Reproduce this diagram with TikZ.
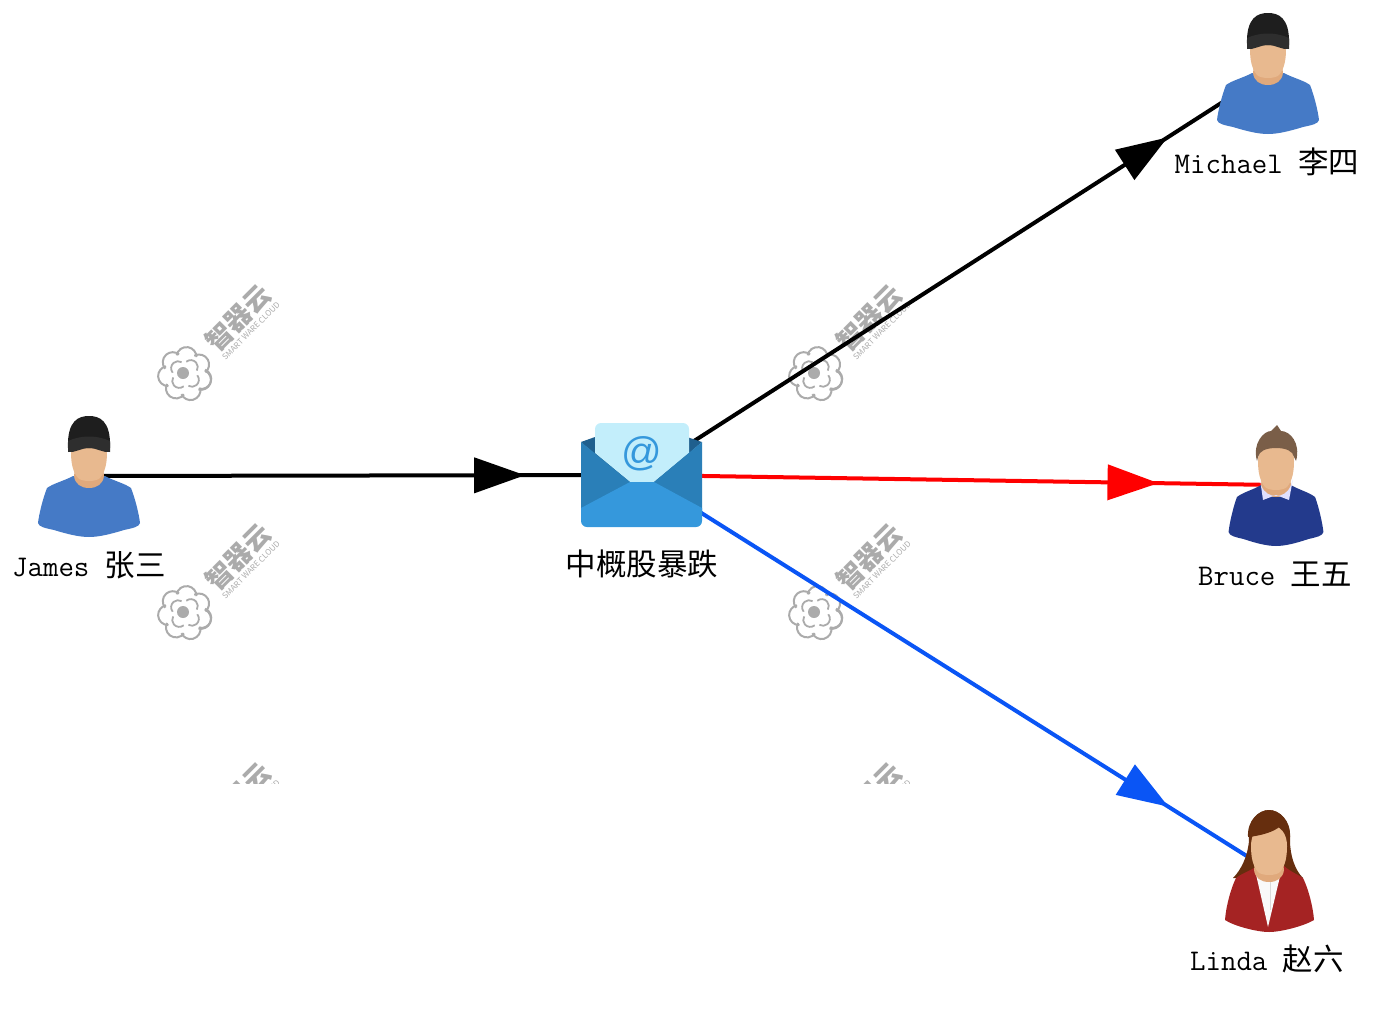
\documentclass[tikz,border=0pt]{standalone}
\usepackage{fontspec}
\usetikzlibrary{arrows.meta,decorations.markings}
\newfontfamily\cjk{Noto Sans CJK SC}
\newfontfamily\atfont{Liberation Sans}
\newcommand\zh[1]{{\cjk\fontsize{30.5}{30}\selectfont #1}}
\definecolor{shirtblue}{HTML}{457AC6}
\definecolor{skin}{HTML}{E8B98F}
\definecolor{neckskin}{HTML}{E0A97C}
\definecolor{capdark}{HTML}{1E1E1E}
\definecolor{capband}{HTML}{2E2E2E}
\definecolor{navy}{HTML}{233A8C}
\definecolor{hairbrown}{HTML}{7A5E48}
\definecolor{auburn}{HTML}{662E0E}
\definecolor{jacket}{HTML}{A52323}
\definecolor{markgray}{HTML}{ABABAB}
\definecolor{flapdark}{HTML}{1F5F8E}
\definecolor{sidepanel}{HTML}{2A7FB8}
\definecolor{frontpanel}{HTML}{3598DC}
\definecolor{letterblue}{HTML}{C3EEFB}
\definecolor{linkblue}{HTML}{0A55F5}

\tikzset{
  who/.style = {inner sep=0pt, font=\fontsize{30}{30}\selectfont\ttfamily},
  icon/.style = {minimum width=104pt, minimum height=120pt, inner sep=0pt},
  flow/.style = {line width=4pt, postaction={decorate}, decoration={markings,
      mark=at position #1 with {\arrow{Triangle[length=51pt,width=35pt]}}}},
  pics/shoulders/.style = {code={
    \fill[#1] (-16,0) .. controls (-25,5) and (-35,7) .. (-42,12) .. controls (-46,22) and (-50,38) .. (-51,47)
      .. controls (-50,51) and (-44,52) .. (-35,54) .. controls (-22,58) and (-10,61) .. (0,61)
      .. controls (10,61) and (22,58) .. (35,54) .. controls (44,52) and (50,51) .. (51,47)
      .. controls (50,38) and (46,22) .. (42,12) .. controls (35,7) and (25,5) .. (16,0) -- cycle;
  }},
  pics/face/.style = {code={
    \fill[neckskin] (-14,-8) -- (-15,0) .. controls (-14,8) and (-8,12) .. (0,12) .. controls (8,12) and (14,8) .. (15,0) -- (14,-8) -- cycle;
    \fill[skin] (0,-45) .. controls (-12,-45) and (-18,-36) .. (-18,-24) .. controls (-18,-12) and (-16,-4) .. (-11,2)
      .. controls (-7,6) and (7,6) .. (11,2) .. controls (16,-4) and (18,-12) .. (18,-24)
      .. controls (18,-36) and (12,-45) .. (0,-45) -- cycle;
  }},
  pics/capman/.style = {code={
    \pic {shoulders=shirtblue};
    \pic {face};
    \fill[capdark] (-21,-28) .. controls (-22,-56) and (-10,-60) .. (0,-60) .. controls (10,-60) and (22,-56) .. (21,-28) -- cycle;
    \fill[capband] (-21,-35) .. controls (-8,-41) and (8,-41) .. (21,-35) -- (21,-24)
      .. controls (14,-23) and (8,-28) .. (0,-28) .. controls (-8,-28) and (-14,-23) .. (-21,-24) -- cycle;
  }},
  pics/flower/.style = {code={
    \foreach \a in {20,71,...,380}
      \draw[markgray, line width=2pt] (\a:17) ++(\a-85:10) arc[start angle=\a-85, delta angle=170, radius=10];
    \foreach \a in {40,130,220,310}
      \draw[markgray, line width=1.8pt] (\a:9) ++(\a-80:7) arc[start angle=\a-80, delta angle=160, radius=7];
    \fill[markgray] (-2,-1) circle (6);
  }},
  pics/stamp/.style = {code={
    \pic {flower};
    \node[rotate=45, text=markgray, inner sep=0pt, font=\fontsize{26.5}{27}\selectfont\cjk\bfseries] (-brand) at (53,-56) {智器云};
    \node[rotate=45, text=markgray, inner sep=0pt, font=\fontsize{8}{8}\selectfont\cjk] (-sub) at (66,-43) {SMART WARE CLOUD};
  }}
}

\begin{document}
\begin{tikzpicture}[x=1pt, y=-1pt, node distance=90pt]
\useasboundingbox (0,0) rectangle (1398,1010);

\node[icon] (james) at (89,476) {};
\node[icon, minimum width=121pt, minimum height=105pt] (mail) at (641,475) {};
\node[icon] (michael) at (1268,73) {};
\node[icon] (bruce) at (1276,485) {};
\node[icon] (linda) at (1269,870) {};

\node[who] (t1) [below of=james, yshift=1pt] {James \zh{张三}};
\node[who] (t2) [below of=mail, xshift=1pt, yshift=1pt] {\zh{中概股暴跌}};
\node[who] (t3) [below of=michael, xshift=-1pt, yshift=1pt] {Michael \zh{李四}};
\node[who] (t4) [below of=bruce, xshift=-1pt, yshift=1pt] {Bruce \zh{王五}};
\node[who] (t5) [below of=linda, xshift=-2pt, yshift=1pt] {Linda \zh{赵六}};

% watermark, last row is cut off
\begin{scope}
\clip (0,0) rectangle (1398,783);
\foreach \mx [count=\i] in {185,816}
  \foreach \my [count=\j] in {374,613,852}
    \pic (stamp\i\j) at (\mx,\my) {stamp};
\end{scope}

\draw[flow=0.79] (james.center) -- (mail.center);
\draw[flow=0.84] (mail.center) -- (michael.center);
\draw[flow=0.815, red] (mail.center) -- (bruce.center);
\draw[flow=0.84, linkblue] (mail.center) -- (linda.center);

% people
\pic at (james) {capman};
\pic at (michael) {capman};

\begin{scope}[shift={(bruce)}]
\pic[xscale=0.93] {shoulders=navy};
\pic {face};
\fill[white!88!blue] (-16,-6) -- (-13,15) -- (0,10) -- (13,15) -- (17,-6) -- (15,0) .. controls (12,8) and (6,11) .. (0,11) .. controls (-6,11) and (-12,8) .. (-15,0) -- cycle;
\fill[hairbrown] (-19,-24) .. controls (-24,-42) and (-12,-54) .. (-5,-54) -- (1,-60) -- (5,-54)
  .. controls (14,-54) and (25,-42) .. (20,-24) -- (18,-28) .. controls (17,-34) and (10,-37) .. (0,-37)
  .. controls (-10,-37) and (-17,-34) .. (-18,-28) -- cycle;
\end{scope}

\begin{scope}[shift={(linda)}]
\fill[auburn] (-20,-30) .. controls (-22,-50) and (-10,-60) .. (0,-60) .. controls (10,-60) and (22,-50) .. (21,-30)
  .. controls (21,-14) and (26,0) .. (34,8) -- (-36,8) .. controls (-28,0) and (-21,-14) .. (-20,-30) -- cycle;
\fill[jacket] (-15,-2) .. controls (-22,2) and (-28,4) .. (-33,8) .. controls (-38,18) and (-43,36) .. (-44,50)
  .. controls (-35,56) and (-12,62) .. (0,62) .. controls (12,62) and (35,56) .. (45,50)
  .. controls (44,36) and (39,18) .. (34,8) .. controls (28,4) and (22,2) .. (15,-4) -- cycle;
\fill[white!95!gray] (-14,0) -- (-1,57) -- (13,-2) -- cycle;
\draw[gray!30, line width=0.6pt] (1,12) -- (1,40);
\pic {face};
\fill[auburn] (-21,-33) .. controls (-22,-50) and (-10,-60) .. (0,-60) .. controls (10,-60) and (22,-50) .. (21,-33)
  .. controls (17,-36) and (13,-40) .. (11,-44) .. controls (6,-38) and (-10,-34) .. (-21,-33) -- cycle;
\end{scope}

% envelope
\begin{scope}[shift={(mail)}]
\fill[flapdark] (-60,-33) -- (-46,-38) -- (46,-38) -- (61,-33) -- (0,20) -- cycle;
\fill[letterblue] (-46,-46) arc[start angle=180, end angle=270, radius=6] -- (42,-52) arc[start angle=270, end angle=360, radius=6] -- (48,-22) -- (13,7) -- (-11,7) -- (-46,-22) -- cycle;
\fill[sidepanel] (-60,-33) -- (-11,7) -- (13,7) -- (61,-33) -- (61,40) -- (-60,40) -- cycle;
\fill[frontpanel] (-60,33) -- (-11,7) -- (13,7) -- (61,33) -- (61,46) arc[start angle=0, end angle=90, radius=6] -- (-54,52) arc[start angle=90, end angle=180, radius=6] -- cycle;
\node[inner sep=0pt, text=frontpanel, font=\fontsize{40}{40}\selectfont\atfont] (atsign) at (1,-21) {@};
\end{scope}
\end{tikzpicture}
\end{document}
